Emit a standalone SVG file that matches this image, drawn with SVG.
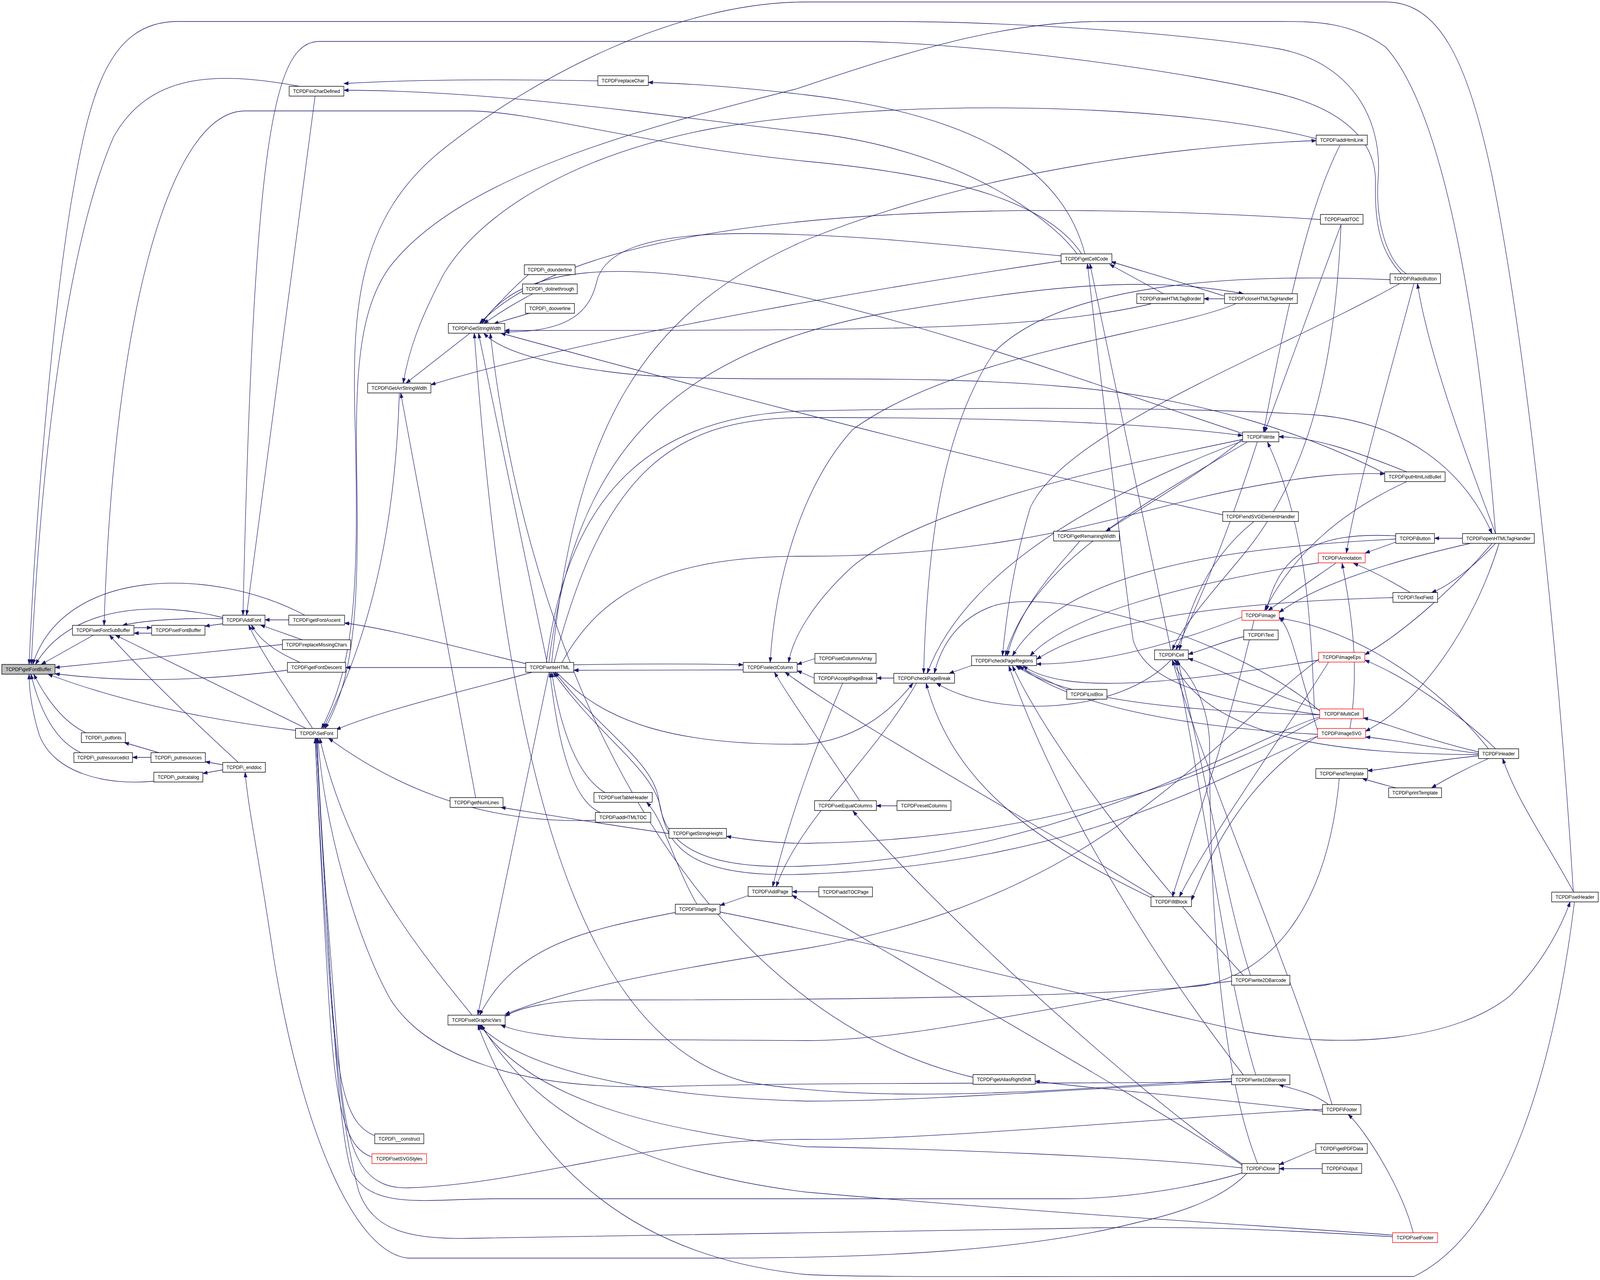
<svg xmlns="http://www.w3.org/2000/svg" width="4504" height="3277" viewBox="0 0 4504 3277" preserveAspectRatio="none">
<defs>
<marker id="a" markerUnits="userSpaceOnUse" markerWidth="14" markerHeight="10" refX="13" refY="5" orient="auto"><path d="M0,0.5 L13,5 L0,9.5 z" fill="#191970" stroke="#191970" stroke-width="1"/></marker>
<style>
svg:root{width:100vw;height:100vh}
.node rect{fill:#ffffff;stroke:#000000;stroke-width:1.4}
.node.red rect{stroke:#ff0000}
.node.root rect{fill:#bfbfbf}
.node text{font-family:"Liberation Sans",Arial,Helvetica,sans-serif;font-size:13.3px;fill:#000000;text-anchor:middle}
#edges path{fill:none;stroke:#191970;stroke-width:1.3;marker-end:url(#a)}
</style>
</defs>
<rect x="0" y="0" width="4504" height="3277" fill="#ffffff"/>
<g id="edges">
<path d="M263,1626 L116,1701"/>
<path d="M627,1581 C450,1540 200,1545 100,1701"/>
<path d="M858,1575 C600,1450 180,1450 92,1701"/>
<path d="M843,221 C600,180 420,190 320,350 C200,600 120,1100 88,1701"/>
<path d="M3958,701 C3900,660 3870,560 3880,450 C3890,300 3800,160 3600,125 C3300,80 2800,55 2500,55 L500,55 C300,55 250,250 200,520 C150,800 100,1300 82,1701"/>
<path d="M795,1650 L155,1709"/>
<path d="M809,1716 C600,1738 400,1752 155,1725"/>
<path d="M832,1870 C600,1845 350,1800 135,1726"/>
<path d="M242,1876 C180,1850 130,1790 95,1726"/>
<path d="M228,1927 C150,1895 110,1810 87,1726"/>
<path d="M433,2000 C300,2012 150,1980 110,1880 C90,1820 82,1770 82,1726"/>
<path d="M377,1607 L427,1607"/>
<path d="M427,1621 L377,1621"/>
<path d="M627,1584 C550,1582 420,1585 345,1601"/>
<path d="M627,1597 L577,1603"/>
<path d="M3045,650 C2950,520 2700,450 2270,413 C1800,370 1500,284 1318,284 L690,284 C480,284 320,800 293,1601"/>
<path d="M862,1865 L325,1626"/>
<path d="M671,1952 C560,1860 400,1720 308,1626"/>
<path d="M813,1587 L746,1587"/>
<path d="M851,1638 L733,1600"/>
<path d="M845,1696 C780,1670 730,1640 708,1600"/>
<path d="M880,1865 C820,1780 740,1680 700,1600"/>
<path d="M887,246 L694,1575"/>
<path d="M3945,701 C3880,640 3870,560 3872,470 C3875,360 3780,280 3600,240 C3300,175 2700,106 2387,106 L900,106 C770,106 715,350 684,1575"/>
<path d="M447,1927 L350,1901"/>
<path d="M425,1939 L373,1939"/>
<path d="M627,1958 L578,1950"/>
<path d="M627,1971 L571,1980"/>
<path d="M3510,3004 C3450,3060 3350,3100 3200,3130 C2900,3200 2500,3221 2000,3221 L1150,3221 C1000,3210 850,2900 770,2450 C730,2200 700,2080 690,1977"/>
<path d="M1683,207 C1400,202 1150,204 968,214"/>
<path d="M3032,650 C2960,560 2700,380 2270,339 C1900,300 1400,231 968,231"/>
<path d="M3054,650 C3000,460 2800,300 2270,243 C2100,225 1950,214 1825,211"/>
<path d="M1323,853 L1143,981"/>
<path d="M1339,2042 L1128,1006"/>
<path d="M1124,1006 C1115,1300 1060,1600 910,1865"/>
<path d="M3705,355 C3300,260 2500,250 2000,330 C1600,400 1350,550 1250,700 C1180,820 1150,900 1135,981"/>
<path d="M2987,668 C2600,720 1700,850 1213,985"/>
<path d="M1490,701 C1440,740 1390,790 1352,828"/>
<path d="M1500,752 C1440,780 1400,805 1362,828"/>
<path d="M1494,801 L1390,829"/>
<path d="M2987,655 C2700,630 2400,598 2100,598 C1800,598 1700,650 1680,720 C1660,800 1600,850 1421,850"/>
<path d="M1540,1696 L1347,853"/>
<path d="M3467,2762 C3000,2790 2500,2830 2100,2770 C1600,2650 1420,1900 1335,853"/>
<path d="M3442,1318 C3100,1250 2400,1100 1410,853"/>
<path d="M3898,1212 C3700,1120 3400,1020 3000,990 C2500,950 2000,990 1700,950 C1500,925 1400,890 1362,853"/>
<path d="M3498,1110 C2800,900 1600,480 1357,828"/>
<path d="M3717,562 C3000,520 1700,500 1350,828"/>
<path d="M3240,778 C2900,850 2400,845 1421,846"/>
<path d="M4429,2284 C4390,1700 4300,900 4200,450 C4130,150 4050,5 3900,5 L2270,5 C1900,5 1500,200 1250,380 C1000,560 990,800 1000,1100 C1010,1500 1000,1700 905,1865"/>
<path d="M4210,1366 C4170,900 4080,300 3900,120 C3800,55 3700,55 3600,55 L3100,55 C2800,55 2500,150 2240,228 C1800,330 1300,450 1100,680 C1000,800 1000,1000 1005,1250 C1010,1600 990,1740 915,1865"/>
<path d="M1498,1721 C1350,1760 1100,1810 946,1868"/>
<path d="M1676,2100 C1400,2110 1150,2040 925,1890"/>
<path d="M1329,2599 C1150,2400 980,2200 900,1890"/>
<path d="M3467,2770 C3000,2775 2300,2770 1853,2782 C1450,2790 1200,2700 1100,2560 C1000,2400 910,2100 895,1890"/>
<path d="M1056,2908 C980,2880 950,2800 930,2500 C910,2200 895,2000 891,1890"/>
<path d="M1047,2962 C975,2940 945,2850 925,2550 C905,2250 892,2000 888,1890"/>
<path d="M3723,2840 C3300,2860 2600,2920 2270,2917 C1800,2915 1500,3030 1150,3041 C1020,3045 980,2950 960,2780 C930,2450 900,2100 893,1890"/>
<path d="M3496,3003 C3400,3030 3200,3069 3000,3069 L1400,3069 C1200,3069 1050,3100 990,3000 C950,2900 930,2500 890,1890"/>
<path d="M3920,3166 C3700,3155 3400,3135 3000,3145 L1340,3170 C1150,3175 1050,3150 1010,3050 C950,2850 920,2500 887,1890"/>
<path d="M1901,2336 C1650,2380 1450,2420 1350,2599"/>
<path d="M1545,1721 L1345,2599"/>
<path d="M3712,1688 C3400,1900 3100,2300 2270,2428 C1900,2480 1600,2530 1422,2597"/>
<path d="M3770,1993 C3740,2300 3600,2480 3390,2523 C3000,2560 2000,2560 1700,2560 C1550,2560 1460,2580 1422,2602"/>
<path d="M3467,2512 C3000,2560 2600,2664 2270,2664 L1707,2661 C1550,2658 1450,2640 1410,2624"/>
<path d="M3467,2768 C3000,2790 2600,2819 2270,2819 C1900,2810 1500,2760 1347,2624"/>
<path d="M3496,2990 C3200,2960 2600,2940 2270,2936 C1900,2900 1500,2830 1352,2624"/>
<path d="M3920,3162 C3600,3140 3000,3110 2270,3052 C1800,3000 1500,2850 1355,2624"/>
<path d="M4432,2309 C4380,2700 4250,3150 3980,3268 L3360,3268 C2800,3268 2400,3270 2270,3263 C1800,3220 1500,3000 1345,2624"/>
<path d="M2092,1715 L1615,1716"/>
<path d="M1615,1702 C1800,1699 1950,1699 2092,1702"/>
<path d="M1703,2029 C1630,1990 1580,1880 1553,1721"/>
<path d="M1690,2080 C1610,2050 1570,1900 1548,1721"/>
<path d="M3715,1835 C3500,1900 3000,2190 2270,2217 C1950,2230 1870,2150 1855,2050 C1840,1950 1700,1880 1562,1721"/>
<path d="M3709,1885 C3500,1950 3100,2210 2270,2238 C1950,2250 1880,2170 1860,2070 C1840,1970 1690,1890 1557,1721"/>
<path d="M1567,1721 C1700,1850 1900,1910 2270,1905 C2400,1895 2500,1830 2570,1749"/>
<path d="M1480,1699 C1300,1660 1100,1610 970,1595"/>
<path d="M1480,1709 L973,1709"/>
<path d="M1560,1696 C1700,1200 1900,1069 2270,1069 C2800,1069 3200,1080 3498,1115"/>
<path d="M1582,1696 C1700,1500 1900,1424 2270,1424 C2900,1424 3200,1300 3500,1250 C3700,1215 3800,1210 3898,1213"/>
<path d="M1553,1696 C1620,1100 1800,800 2270,614 C2800,420 3400,370 3705,360"/>
<path d="M1538,1696 C1600,1250 1850,1060 2270,1052 C2900,1040 3400,1045 3700,1062 C3950,1080 4120,1200 4200,1366"/>
<path d="M1545,1696 C1620,1150 1900,900 2500,800 C2900,740 3200,700 3500,752"/>
<path d="M2294,1686 L2244,1701"/>
<path d="M2292,1736 L2244,1717"/>
<path d="M2420,2050 C2350,1950 2230,1800 2180,1721"/>
<path d="M3480,777 C3300,850 2700,900 2400,1100 C2250,1250 2180,1500 2168,1696"/>
<path d="M3498,1125 C3100,1200 2600,1300 2400,1450 C2280,1550 2230,1640 2220,1696"/>
<path d="M3250,2296 C2900,2100 2400,1850 2210,1721"/>
<path d="M2516,1736 L2468,1736"/>
<path d="M2372,1749 C2300,1900 2220,2100 2175,2270"/>
<path d="M2580,1749 C2450,1950 2250,2100 2185,2270"/>
<path d="M2305,2283 L2230,2283"/>
<path d="M3500,2985 C3200,2800 2600,2500 2230,2292"/>
<path d="M2106,2293 L2027,2318"/>
<path d="M1962,2315 C1900,2220 1870,2100 1820,2054"/>
<path d="M2027,2335 C2500,2420 3100,2560 3500,2640 C3800,2690 4100,2660 4250,2550 C4350,2460 4400,2360 4420,2309"/>
<path d="M2525,2063 L2467,2063"/>
<path d="M3500,2982 C3200,2800 2600,2300 2401,2076"/>
<path d="M2735,1704 L2672,1724"/>
<path d="M3296,1690 C3150,1830 2800,1840 2636,1749"/>
<path d="M3245,2300 C2900,2150 2680,2000 2607,1749"/>
<path d="M3500,1128 C3000,1300 2700,1500 2610,1724"/>
<path d="M3715,1820 C3500,1650 3000,1500 2800,1550 C2700,1580 2650,1650 2630,1724"/>
<path d="M3913,716 C3500,700 3000,720 2800,900 C2650,1100 2610,1400 2600,1724"/>
<path d="M3039,1386 C2980,1450 2870,1550 2835,1679"/>
<path d="M3003,1766 L2862,1705"/>
<path d="M3510,1132 C3200,1300 2900,1450 2830,1679"/>
<path d="M3940,726 C3600,900 3000,1100 2900,1300 C2850,1450 2830,1600 2822,1679"/>
<path d="M3929,1380 C3500,1400 3000,1450 2850,1679"/>
<path d="M3921,1530 C3500,1540 3100,1580 2918,1688"/>
<path d="M3496,1580 C3300,1650 3100,1700 2918,1700"/>
<path d="M3712,1690 C3300,1750 3000,1780 2880,1705"/>
<path d="M3709,1880 C3300,1860 3000,1800 2870,1705"/>
<path d="M3715,1830 C3300,1820 3000,1790 2860,1705"/>
<path d="M3500,2752 C3200,2400 2950,2000 2840,1705"/>
<path d="M3500,2497 C3200,2200 2950,1900 2850,1705"/>
<path d="M3711,1441 C3300,1500 3000,1580 2900,1679"/>
<path d="M3296,1664 L3068,675"/>
<path d="M3715,1830 C3400,1790 3230,1750 3190,1640 C3160,1450 3090,900 3061,675"/>
<path d="M3275,752 L3124,677"/>
<path d="M3447,758 C3350,730 3200,690 3128,670"/>
<path d="M3447,765 L3389,765"/>
<path d="M3539,1132 C3480,1300 3400,1500 3310,1664"/>
<path d="M3715,1818 C3500,1750 3400,1700 3345,1686"/>
<path d="M3501,1630 C3450,1640 3400,1660 3345,1675"/>
<path d="M4162,1932 C3800,1930 3400,1900 3300,1690"/>
<path d="M3750,2828 C3600,2400 3400,2000 3300,1690"/>
<path d="M3540,2979 C3420,2700 3405,2200 3405,1900 C3400,1800 3350,1720 3305,1690"/>
<path d="M3535,2752 C3450,2500 3400,2100 3310,1690"/>
<path d="M3775,575 C3760,900 3700,1200 3500,1420 C3400,1530 3330,1600 3300,1664"/>
<path d="M3530,1335 C3440,1400 3360,1500 3320,1664"/>
<path d="M3520,2497 C3450,2300 3400,2000 3315,1690"/>
<path d="M3530,1588 C3450,1900 3350,2150 3300,2296"/>
<path d="M3740,1695 C3600,1900 3400,2150 3320,2296"/>
<path d="M3709,1885 C3500,2000 3400,2200 3354,2305"/>
<path d="M3772,372 C3700,500 3640,700 3557,1106"/>
<path d="M3775,575 L3560,1106"/>
<path d="M3960,1208 C3800,1150 3700,1120 3600,1118"/>
<path d="M3700,1815 C3690,1600 3680,1350 3568,1132"/>
<path d="M3498,1124 C3400,1200 3250,1280 3113,1360"/>
<path d="M3980,726 C3900,1000 3820,1250 3790,1416"/>
<path d="M3929,1388 L3843,1416"/>
<path d="M3970,1517 C3920,1490 3860,1460 3810,1442"/>
<path d="M3760,1442 C3700,1480 3620,1530 3570,1563"/>
<path d="M3800,1865 C3830,1700 3800,1550 3778,1442"/>
<path d="M3929,1372 C3700,1360 3600,1420 3565,1563"/>
<path d="M3960,1233 C3800,1300 3650,1400 3560,1563"/>
<path d="M4140,1391 C3900,1440 3700,1500 3601,1568"/>
<path d="M3709,1870 C3650,1700 3640,1620 3601,1580"/>
<path d="M4190,1917 C4000,1700 3750,1600 3601,1583"/>
<path d="M4210,1366 C4120,1150 4020,900 3990,726"/>
<path d="M4117,1378 L4038,1378"/>
<path d="M4210,1391 C4150,1450 4080,1500 4030,1517"/>
<path d="M4220,1391 C4150,1600 4000,1800 3844,1872"/>
<path d="M4200,1391 C4100,1500 3950,1620 3842,1676"/>
<path d="M4210,1917 C4100,1820 3950,1730 3842,1690"/>
<path d="M4162,1925 C4000,1890 3900,1850 3838,1838"/>
<path d="M4162,1929 C4000,1910 3900,1890 3844,1887"/>
<path d="M4162,1935 C4000,1950 3900,1970 3850,1973"/>
<path d="M4190,1942 C4120,1970 4060,2000 4030,2017"/>
<path d="M4430,2284 C4350,2150 4270,2050 4230,1942"/>
<path d="M3930,2017 C3900,2010 3860,2000 3835,1993"/>
<path d="M3978,3156 C3950,3050 3850,2900 3795,2853"/>
<path d="M3740,2828 C3700,2800 3650,2790 3600,2777"/>
<path d="M3723,2845 C3400,2810 3100,2790 2914,2768"/>
<path d="M3704,2942 L3601,2982"/>
<path d="M3722,2992 L3601,2992"/>
<path d="M2739,2758 C2000,2600 1500,1800 1380,853"/>
<path d="M3715,1838 C3500,1950 3000,2150 2270,2159 C2200,2160 2100,2150 2045,2141"/>
<path d="M1883,2134 C1700,2110 1500,2080 1410,2067"/>
</g>
<g id="n-getFontBuffer" class="node root"><rect x="5" y="1701" width="150" height="25"/><text x="80" y="1718">TCPDF\getFontBuffer</text></g>
<g id="n-setFontSubBuffer" class="node"><rect x="204" y="1601" width="173" height="25"/><text x="290.5" y="1618">TCPDF\setFontSubBuffer</text></g>
<g id="n-setFontBuffer" class="node"><rect x="427" y="1601" width="150" height="25"/><text x="502" y="1618">TCPDF\setFontBuffer</text></g>
<g id="n-AddFont" class="node"><rect x="627" y="1575" width="119" height="25"/><text x="686.5" y="1592">TCPDF\AddFont</text></g>
<g id="n-getFontAscent" class="node"><rect x="813" y="1575" width="157" height="25"/><text x="891.5" y="1592">TCPDF\getFontAscent</text></g>
<g id="n-replaceMissingChars" class="node"><rect x="795" y="1638" width="192" height="25"/><text x="891" y="1655">TCPDF\replaceMissingChars</text></g>
<g id="n-getFontDescent" class="node"><rect x="809" y="1696" width="164" height="25"/><text x="891" y="1713">TCPDF\getFontDescent</text></g>
<g id="n-SetFont" class="node"><rect x="832" y="1865" width="118" height="25"/><text x="891" y="1882">TCPDF\SetFont</text></g>
<g id="n-putfonts" class="node"><rect x="229" y="1876" width="124" height="25"/><text x="291" y="1893">TCPDF\_putfonts</text></g>
<g id="n-putresourcedict" class="node"><rect x="208" y="1927" width="165" height="25"/><text x="290.5" y="1944">TCPDF\_putresourcedict</text></g>
<g id="n-putresources" class="node"><rect x="425" y="1927" width="153" height="25"/><text x="501.5" y="1944">TCPDF\_putresources</text></g>
<g id="n-enddoc" class="node"><rect x="627" y="1952" width="120" height="25"/><text x="687" y="1969">TCPDF\_enddoc</text></g>
<g id="n-putcatalog" class="node"><rect x="433" y="1977" width="138" height="25"/><text x="502" y="1994">TCPDF\_putcatalog</text></g>
<g id="n-isCharDefined" class="node"><rect x="814" y="221" width="154" height="25"/><text x="891" y="238">TCPDF\isCharDefined</text></g>
<g id="n-GetArrStringWidth" class="node"><rect x="1035" y="981" width="178" height="25"/><text x="1124" y="998">TCPDF\GetArrStringWidth</text></g>
<g id="n-construct" class="node"><rect x="1055" y="2903" width="138" height="25"/><text x="1124" y="2920">TCPDF\__construct</text></g>
<g id="n-setSVGStyles" class="node red"><rect x="1047" y="2954" width="154" height="25"/><text x="1124" y="2971">TCPDF\setSVGStyles</text></g>
<g id="n-GetStringWidth" class="node"><rect x="1262" y="828" width="159" height="25"/><text x="1341.5" y="845">TCPDF\GetStringWidth</text></g>
<g id="n-getNumLines" class="node"><rect x="1267" y="2042" width="149" height="25"/><text x="1341.5" y="2059">TCPDF\getNumLines</text></g>
<g id="n-setGraphicVars" class="node"><rect x="1261" y="2599" width="161" height="25"/><text x="1341.5" y="2616">TCPDF\setGraphicVars</text></g>
<g id="n-dounderline" class="node"><rect x="1476" y="678" width="143" height="25"/><text x="1547.5" y="695">TCPDF\_dounderline</text></g>
<g id="n-dolinethrough" class="node"><rect x="1471" y="727" width="154" height="25"/><text x="1548" y="744">TCPDF\_dolinethrough</text></g>
<g id="n-dooverline" class="node"><rect x="1479" y="777" width="138" height="25"/><text x="1548" y="794">TCPDF\_dooverline</text></g>
<g id="n-writeHTML" class="node"><rect x="1480" y="1696" width="135" height="25"/><text x="1547.5" y="1713">TCPDF\writeHTML</text></g>
<g id="n-replaceChar" class="node"><rect x="1683" y="194" width="142" height="25"/><text x="1754" y="211">TCPDF\replaceChar</text></g>
<g id="n-setTableHeader" class="node"><rect x="1672" y="2029" width="164" height="25"/><text x="1754" y="2046">TCPDF\setTableHeader</text></g>
<g id="n-addHTMLTOC" class="node"><rect x="1676" y="2080" width="156" height="25"/><text x="1754" y="2097">TCPDF\addHTMLTOC</text></g>
<g id="n-getStringHeight" class="node"><rect x="1883" y="2121" width="162" height="25"/><text x="1964" y="2138">TCPDF\getStringHeight</text></g>
<g id="n-startPage" class="node"><rect x="1901" y="2315" width="126" height="25"/><text x="1964" y="2332">TCPDF\startPage</text></g>
<g id="n-selectColumn" class="node"><rect x="2092" y="1696" width="152" height="25"/><text x="2168" y="1713">TCPDF\selectColumn</text></g>
<g id="n-AddPage" class="node"><rect x="2106" y="2270" width="124" height="25"/><text x="2168" y="2287">TCPDF\AddPage</text></g>
<g id="n-setColumnsArray" class="node"><rect x="2294" y="1673" width="172" height="25"/><text x="2380" y="1690">TCPDF\setColumnsArray</text></g>
<g id="n-AcceptPageBreak" class="node"><rect x="2292" y="1724" width="176" height="25"/><text x="2380" y="1741">TCPDF\AcceptPageBreak</text></g>
<g id="n-setEqualColumns" class="node"><rect x="2293" y="2050" width="174" height="25"/><text x="2380" y="2067">TCPDF\setEqualColumns</text></g>
<g id="n-addTOCPage" class="node"><rect x="2305" y="2271" width="151" height="25"/><text x="2380.5" y="2288">TCPDF\addTOCPage</text></g>
<g id="n-checkPageBreak" class="node"><rect x="2516" y="1724" width="171" height="25"/><text x="2601.5" y="1741">TCPDF\checkPageBreak</text></g>
<g id="n-resetColumns" class="node"><rect x="2525" y="2050" width="152" height="25"/><text x="2601" y="2067">TCPDF\resetColumns</text></g>
<g id="n-checkPageRegions" class="node"><rect x="2735" y="1679" width="183" height="25"/><text x="2826.5" y="1696">TCPDF\checkPageRegions</text></g>
<g id="n-getAliasRightShift" class="node"><rect x="2739" y="2751" width="175" height="25"/><text x="2826.5" y="2768">TCPDF\getAliasRightShift</text></g>
<g id="n-getCellCode" class="node"><rect x="2987" y="650" width="143" height="25"/><text x="3058.5" y="667">TCPDF\getCellCode</text></g>
<g id="n-ListBox" class="node"><rect x="3003" y="1765" width="113" height="25"/><text x="3059.5" y="1782">TCPDF\ListBox</text></g>
<g id="n-getRemainingWidth" class="node"><rect x="2966" y="1360" width="185" height="25"/><text x="3058.5" y="1377">TCPDF\getRemainingWidth</text></g>
<g id="n-drawHTMLTagBorder" class="node"><rect x="3200" y="752" width="189" height="25"/><text x="3294.5" y="769">TCPDF\drawHTMLTagBorder</text></g>
<g id="n-Cell" class="node"><rect x="3250" y="1664" width="95" height="25"/><text x="3297.5" y="1681">TCPDF\Cell</text></g>
<g id="n-fitBlock" class="node"><rect x="3240" y="2296" width="114" height="25"/><text x="3297" y="2313">TCPDF\fitBlock</text></g>
<g id="n-closeHTMLTagHandler" class="node"><rect x="3447" y="752" width="205" height="25"/><text x="3549.5" y="769">TCPDF\closeHTMLTagHandler</text></g>
<g id="n-Write" class="node"><rect x="3498" y="1106" width="102" height="25"/><text x="3549" y="1123">TCPDF\Write</text></g>
<g id="n-endSVGElementHandler" class="node"><rect x="3442" y="1310" width="213" height="25"/><text x="3548.5" y="1327">TCPDF\endSVGElementHandler</text></g>
<g id="n-Image" class="node red"><rect x="3496" y="1563" width="105" height="25"/><text x="3548.5" y="1580">TCPDF\Image</text></g>
<g id="n-Text" class="node"><rect x="3501" y="1613" width="97" height="25"/><text x="3549.5" y="1630">TCPDF\Text</text></g>
<g id="n-write2DBarcode" class="node"><rect x="3467" y="2497" width="164" height="25"/><text x="3549" y="2514">TCPDF\write2DBarcode</text></g>
<g id="n-write1DBarcode" class="node"><rect x="3467" y="2752" width="164" height="25"/><text x="3549" y="2769">TCPDF\write1DBarcode</text></g>
<g id="n-Close" class="node"><rect x="3496" y="2979" width="105" height="25"/><text x="3548.5" y="2996">TCPDF\Close</text></g>
<g id="n-addHtmlLink" class="node"><rect x="3705" y="346" width="144" height="25"/><text x="3777" y="363">TCPDF\addHtmlLink</text></g>
<g id="n-addTOC" class="node"><rect x="3717" y="549" width="120" height="25"/><text x="3777" y="566">TCPDF\addTOC</text></g>
<g id="n-Annotation" class="node red"><rect x="3711" y="1416" width="132" height="25"/><text x="3777" y="1433">TCPDF\Annotation</text></g>
<g id="n-ImageEps" class="node red"><rect x="3712" y="1670" width="130" height="25"/><text x="3777" y="1687">TCPDF\ImageEps</text></g>
<g id="n-MultiCell" class="node red"><rect x="3715" y="1815" width="123" height="25"/><text x="3776.5" y="1832">TCPDF\MultiCell</text></g>
<g id="n-ImageSVG" class="node red"><rect x="3709" y="1865" width="135" height="25"/><text x="3776.5" y="1882">TCPDF\ImageSVG</text></g>
<g id="n-endTemplate" class="node"><rect x="3704" y="1968" width="146" height="25"/><text x="3777" y="1985">TCPDF\endTemplate</text></g>
<g id="n-Footer" class="node"><rect x="3723" y="2828" width="108" height="25"/><text x="3777" y="2845">TCPDF\Footer</text></g>
<g id="n-getPDFData" class="node"><rect x="3704" y="2928" width="145" height="25"/><text x="3776.5" y="2945">TCPDF\getPDFData</text></g>
<g id="n-Output" class="node"><rect x="3722" y="2979" width="111" height="25"/><text x="3777.5" y="2996">TCPDF\Output</text></g>
<g id="n-RadioButton" class="node"><rect x="3913" y="701" width="142" height="25"/><text x="3984" y="718">TCPDF\RadioButton</text></g>
<g id="n-putHtmlListBullet" class="node"><rect x="3898" y="1208" width="170" height="25"/><text x="3983" y="1225">TCPDF\putHtmlListBullet</text></g>
<g id="n-Button" class="node"><rect x="3929" y="1366" width="109" height="25"/><text x="3983.5" y="1383">TCPDF\Button</text></g>
<g id="n-TextField" class="node"><rect x="3921" y="1517" width="126" height="25"/><text x="3984" y="1534">TCPDF\TextField</text></g>
<g id="n-printTemplate" class="node"><rect x="3909" y="2017" width="149" height="25"/><text x="3983.5" y="2034">TCPDF\printTemplate</text></g>
<g id="n-setFooter" class="node red"><rect x="3920" y="3156" width="127" height="25"/><text x="3983.5" y="3173">TCPDF\setFooter</text></g>
<g id="n-openHTMLTagHandler" class="node"><rect x="4117" y="1366" width="202" height="25"/><text x="4218" y="1383">TCPDF\openHTMLTagHandler</text></g>
<g id="n-Header" class="node"><rect x="4162" y="1917" width="113" height="25"/><text x="4218.5" y="1934">TCPDF\Header</text></g>
<g id="n-setHeader" class="node"><rect x="4368" y="2284" width="131" height="25"/><text x="4433.5" y="2301">TCPDF\setHeader</text></g>
</svg>
